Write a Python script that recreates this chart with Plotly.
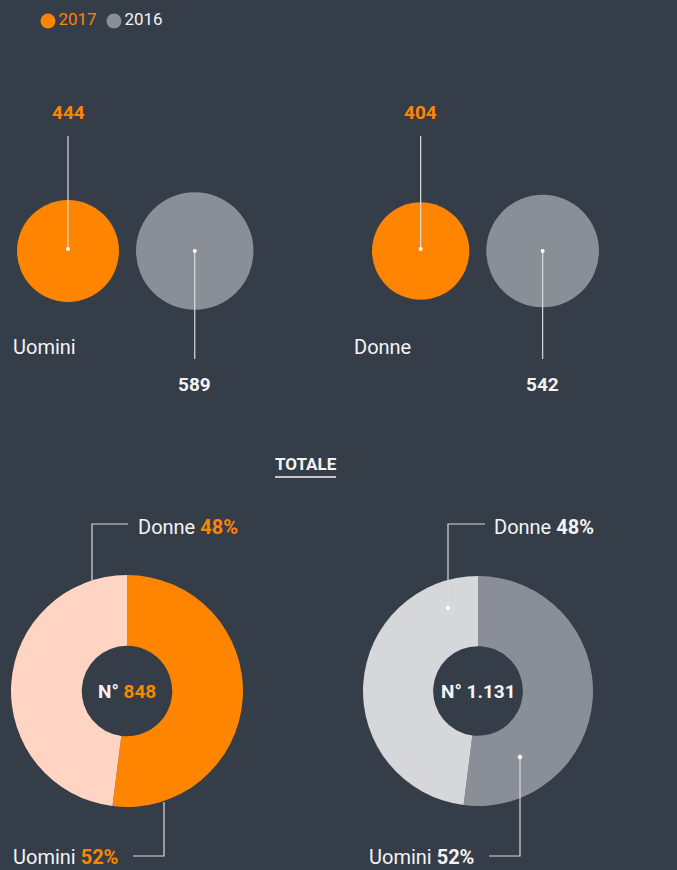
import math
import plotly.graph_objects as go

# ---------------- data ----------------
years = ["2017", "2016"]
groups = ["Uomini", "Donne"]
counts_2017 = [444, 404]
counts_2016 = [589, 542]
share_labels = ["Uomini", "Donne"]
share_2017 = [52, 48]
share_2016 = [52, 48]
totals = ["848", "1.131"]          # 2017, 2016
section_title = "TOTALE"

# ---------------- style ----------------
W, H = 677, 870
BG = "#343d48"
ORANGE = "#ff8500"
GRAY = "#8a8f97"
PEACH = "#ffd4c3"
LIGHTGRAY = "#d5d7da"
WHITE = "#f4f4f4"
LINE = "#d9dadc"
FONT = "Roboto, Liberation Sans, sans-serif"

year_colors = [ORANGE, GRAY]

R_REF = 51.0                      # radius in px of the 444 bubble
SIZEREF = max(counts_2017[0], 1) / 2.0 / (R_REF ** 2)


def radius(v):
    return math.sqrt(v / 2.0 / SIZEREF)


fig = go.Figure()

# ---------------- legend (manual) ----------------
fig.add_trace(go.Scatter(
    x=[48, 114], y=[21, 21], mode="markers+text",
    marker=dict(size=15, color=year_colors, opacity=1),
    text=years, textposition="middle right",
    textfont=dict(family=FONT, size=17, color=[ORANGE, WHITE]),
    hoverinfo="skip", showlegend=False, cliponaxis=False,
))

# ---------------- bubbles ----------------
group_left = [17, 372]
GAP = 17
CY = 251
for i, g in enumerate(groups):
    r1 = radius(counts_2017[i])
    r2 = radius(counts_2016[i])
    cx1 = group_left[i] + r1
    cx2 = group_left[i] + 2 * r1 + GAP + r2
    fig.add_trace(go.Scatter(
        x=[cx1, cx2], y=[CY, CY], mode="markers",
        marker=dict(size=[counts_2017[i], counts_2016[i]], sizemode="area",
                    sizeref=SIZEREF, color=[ORANGE, GRAY], opacity=1,
                    line=dict(width=0)),
        hoverinfo="skip", showlegend=False, cliponaxis=False,
    ))
    # leader lines
    fig.add_trace(go.Scatter(
        x=[cx1, cx1], y=[136, CY - 2], mode="lines",
        line=dict(color=LINE, width=1.2), hoverinfo="skip", showlegend=False))
    fig.add_trace(go.Scatter(
        x=[cx2, cx2], y=[CY, 359], mode="lines",
        line=dict(color=LINE, width=1.2), hoverinfo="skip", showlegend=False))
    fig.add_trace(go.Scatter(
        x=[cx1, cx2], y=[CY - 2, CY], mode="markers",
        marker=dict(size=4, color="white", opacity=1), hoverinfo="skip",
        showlegend=False))
    fig.add_annotation(x=cx1, y=112, text="<b>%d</b>" % counts_2017[i],
                       showarrow=False, font=dict(family=FONT, size=19, color=ORANGE))
    fig.add_annotation(x=cx2, y=384, text="<b>%d</b>" % counts_2016[i],
                       showarrow=False, font=dict(family=FONT, size=19, color=WHITE))
    fig.add_annotation(x=[11, 352][i], y=347, text=g, xanchor="left",
                       showarrow=False, font=dict(family=FONT, size=20, color=WHITE))

# ---------------- title ----------------
fig.add_annotation(x=306, y=464, text="<b>%s</b>" % section_title, showarrow=False,
                   font=dict(family=FONT, size=17, color=WHITE))
fig.add_shape(type="line", x0=275, x1=336, y0=477, y1=477, xref="x", yref="y",
              line=dict(color=WHITE, width=1.5))

# ---------------- donuts ----------------
donuts = [
    dict(cx=127, cy=691, r=116, vals=share_2017, colors=[ORANGE, PEACH],
         num_color=ORANGE, pct_color=ORANGE, total=totals[0]),
    dict(cx=478, cy=691, r=115, vals=share_2016, colors=[GRAY, LIGHTGRAY],
         num_color=WHITE, pct_color=WHITE, total=totals[1]),
]
for d in donuts:
    fig.add_trace(go.Pie(
        labels=share_labels, values=d["vals"], sort=False, direction="clockwise",
        rotation=0, hole=0.39, textinfo="none", hoverinfo="skip",
        marker=dict(colors=d["colors"], line=dict(width=0)),
        domain=dict(x=[(d["cx"] - d["r"]) / W, (d["cx"] + d["r"]) / W],
                    y=[1 - (d["cy"] + d["r"]) / H, 1 - (d["cy"] - d["r"]) / H]),
        showlegend=False,
    ))
    fig.add_annotation(x=d["cx"], y=d["cy"],
                       text="<b>N° <span style='color:%s'>%s</span></b>" % (d["num_color"], d["total"]),
                       showarrow=False, font=dict(family=FONT, size=19, color=WHITE))

# connectors (above pies)
conn_lines = [
    [(92, 580), (92, 524), (128, 524)],
    [(164, 802), (164, 856), (133, 856)],
    [(448, 608), (448, 524), (485, 524)],
    [(520, 757), (520, 856), (489, 856)],
]
for pts in conn_lines:
    path = "M %f %f " % pts[0] + " ".join("L %f %f" % p for p in pts[1:])
    fig.add_shape(type="path", path=path, xref="x", yref="y", layer="above",
                  line=dict(color=LINE, width=1.2))
for (dx, dy) in [(448, 608), (520, 757)]:
    fig.add_shape(type="circle", x0=dx - 2.2, x1=dx + 2.2, y0=dy - 2.2, y1=dy + 2.2,
                  xref="x", yref="y", layer="above", fillcolor="white",
                  line=dict(width=0))

# share labels
for d, (lx_d, lx_u) in zip(donuts, [(136, 11), (492, 367)]):
    fig.add_annotation(x=lx_d, y=527, xanchor="left", showarrow=False,
                       text="%s <b><span style='color:%s'>%d%%</span></b>" % (share_labels[1], d["pct_color"], d["vals"][1]),
                       font=dict(family=FONT, size=20, color=WHITE))
    fig.add_annotation(x=lx_u, y=857, xanchor="left", showarrow=False,
                       text="%s <b><span style='color:%s'>%d%%</span></b>" % (share_labels[0], d["pct_color"], d["vals"][0]),
                       font=dict(family=FONT, size=20, color=WHITE))

fig.update_layout(
    width=W, height=H, margin=dict(l=0, r=0, t=0, b=0),
    paper_bgcolor=BG, plot_bgcolor=BG, showlegend=False,
    xaxis=dict(range=[0, W], visible=False, fixedrange=True, domain=[0, 1]),
    yaxis=dict(range=[H, 0], visible=False, fixedrange=True, domain=[0, 1]),
    font=dict(family=FONT, color=WHITE),
)

fig.write_html(
    "out.html",
    config={"displayModeBar": False},
    post_script="document.body.style.margin='0';document.body.style.overflow='hidden';"
                "document.documentElement.style.background='%s';" % BG,
)
